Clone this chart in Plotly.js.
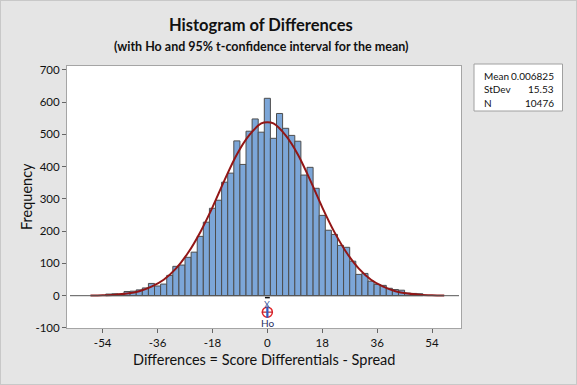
<!DOCTYPE html>
<html>
<head>
<meta charset="utf-8">
<script src="https://cdn.plot.ly/plotly-3.0.1.min.js"></script>
<style>
html, body { margin: 0; padding: 0; background: #e5e5e5; }
#chart { width: 577px; height: 385px; }
#frame { position: absolute; left: 0; top: 0; width: 575px; height: 383px; border: 1px solid #c8c8c8; pointer-events: none; }
</style>
</head>
<body>
<div id="chart"></div>
<div id="frame"></div>
<script>
// Histogram bins (centres, width 2) and counts
const binCenters = [-52,-50,-48,-46,-44,-42,-40,-38,-36,-34,-32,-30,-28,-26,-24,-22,-20,-18,-16,-14,-12,-10,-8,-6,-4,-2,
                    0,2,4,6,8,10,12,14,16,18,20,22,24,26,28,30,32,34,36,38,40,42,44,46,48,50];
const counts = [5,6,5,13,14,18,24,38,30,36,63,91,95,119,135,184,228,271,296,352,380,480,407,510,548,507,
                612,488,565,519,497,479,374,398,333,249,203,190,156,150,107,66,69,45,35,32,23,19,17,8,7,6];

// Fitted normal curve
const fitX = [-58,-54,-50,-46,-42,-38,-34,-30,-26,-22,-18,-14,-10,-6,-2,0,2,6,10,14,18,22,26,30,34,38,42,46,50,54,58];
const fitY = [0.5,1.3,3,6.7,14,28,49.5,84,133,197,274,359,438,497,534,538,534,497,438,359,274,197,133,84,49.5,28,14,6.7,3,1.3,0.5];

// Statistics box
const statLabels = ["Mean", "StDev", "N"];
const statValues = ["0.006825", "15.53", "10476"];

// Ticks
const xTicks = [-54, -36, -18, 0, 18, 36, 54];
const yTicks = [-100, 0, 100, 200, 300, 400, 500, 600, 700];

// Reference markers
const hoValue = 0;
const meanValue = 0.006825;

const plotL = 67, plotR = 461, plotT = 66, plotB = 328;
const pw = plotR - plotL, ph = plotB - plotT;
const px = v => (v - plotL) / pw;
const py = v => (plotB - v) / ph;

const FONT = 'Lato, "Open Sans", sans-serif';

const traces = [
  {
    type: 'bar', x: binCenters, y: counts, width: 2,
    marker: { color: '#7ca6d8', line: { color: '#4d4d4d', width: 1 } },
    hoverinfo: 'skip'
  },
  {
    type: 'scatter', mode: 'lines', x: fitX, y: fitY,
    line: { color: '#921616', width: 2, shape: 'spline' },
    hoverinfo: 'skip'
  },
  {
    type: 'scatter', mode: 'markers', x: [hoValue], y: [-51],
    marker: { symbol: 'circle-open', size: 10, color: '#e3262a', line: { width: 1.5, color: '#e3262a' } },
    hoverinfo: 'skip'
  },
  {
    type: 'scatter', mode: 'markers', x: [hoValue], y: [-51],
    marker: { symbol: 'line-ew-open', size: 8, color: '#c0202a', line: { width: 1.2, color: '#c0202a' } },
    hoverinfo: 'skip'
  },
  {
    type: 'scatter', mode: 'markers', x: [meanValue], y: [-51],
    marker: { symbol: 'line-ns-open', size: 8, color: '#2c5bc4', line: { width: 2.2, color: '#2c5bc4' } },
    hoverinfo: 'skip'
  }
];

const annotations = [
  { text: '<b>Histogram of Differences</b>', xref: 'paper', yref: 'paper', x: px(261), y: py(25),
    xanchor: 'center', yanchor: 'middle', showarrow: false, font: { family: FONT, size: 16.5, color: '#111' } },
  { text: '<b>(with Ho and 95% t-confidence interval for the mean)</b>', xref: 'paper', yref: 'paper', x: px(261), y: py(46),
    xanchor: 'center', yanchor: 'middle', showarrow: false, font: { family: FONT, size: 12.5, color: '#111' } },
  { text: 'Differences = Score Differentials - Spread', xref: 'paper', yref: 'paper', x: px(264), y: py(359),
    xanchor: 'center', yanchor: 'middle', showarrow: false, font: { family: FONT, size: 14.5, color: '#111' } },
  { text: 'Frequency', xref: 'paper', yref: 'paper', x: px(26), y: 0.5, textangle: -90,
    xanchor: 'center', yanchor: 'middle', showarrow: false, font: { family: FONT, size: 14.5, color: '#111' } },
  { text: 'X', xref: 'x', yref: 'y', x: meanValue, y: -26,
    xanchor: 'center', yanchor: 'middle', showarrow: false, font: { family: FONT, size: 9, color: '#3a5aa0' } },
  { text: 'Ho', xref: 'x', yref: 'y', x: hoValue, y: -84,
    xanchor: 'center', yanchor: 'middle', showarrow: false, font: { family: FONT, size: 10, color: '#1f2f5f' } }
];

const rowY = [76, 88.7, 102.7];
statLabels.forEach((lab, i) => {
  annotations.push({ text: lab, xref: 'paper', yref: 'paper', x: px(481.5), y: py(rowY[i]),
    xanchor: 'left', yanchor: 'middle', showarrow: false, font: { family: FONT, size: 10, color: '#111' } });
  annotations.push({ text: statValues[i], xref: 'paper', yref: 'paper', x: px(556), y: py(rowY[i]),
    xanchor: 'right', yanchor: 'middle', showarrow: false, font: { family: FONT, size: 10, color: '#111' } });
});

const shapes = [
  { type: 'line', xref: 'paper', yref: 'y', x0: px(70), x1: px(459), y0: 0, y1: 0,
    line: { color: '#555', width: 1 }, layer: 'above' },
  { type: 'line', xref: 'x', yref: 'y', x0: meanValue - 0.8, x1: meanValue + 0.8, y0: -6, y1: -6,
    line: { color: '#111', width: 1.5 } },
  { type: 'rect', xref: 'paper', yref: 'paper', x0: px(474), x1: px(562.5), y0: py(111), y1: py(64),
    fillcolor: '#ffffff', line: { color: '#a0a0a0', width: 1 } }
];

const layout = {
  width: 577, height: 385,
  margin: { l: plotL, r: 577 - plotR, t: plotT, b: 385 - plotB, pad: 0 },
  paper_bgcolor: '#e5e5e5', plot_bgcolor: '#ffffff',
  font: { family: FONT, size: 11, color: '#111' },
  showlegend: false, bargap: 0,
  xaxis: {
    range: [-65.7, 63.5], tickvals: xTicks, ticktext: xTicks.map(String),
    showgrid: false, zeroline: false, showline: true, mirror: true,
    linecolor: '#a5a5a5', linewidth: 1, ticks: 'outside', ticklen: 4, tickcolor: '#666',
    tickfont: { family: FONT, size: 11.5, color: '#111' }
  },
  yaxis: {
    range: [-100.2, 712.2], tickvals: yTicks, ticktext: yTicks.map(String),
    showgrid: false, zeroline: false, showline: true, mirror: true,
    linecolor: '#a5a5a5', linewidth: 1, ticks: 'outside', ticklen: 4, tickcolor: '#666',
    tickfont: { family: FONT, size: 11.5, color: '#111' }
  },
  annotations: annotations,
  shapes: shapes
};

Plotly.newPlot('chart', traces, layout, { staticPlot: true, displayModeBar: false });
</script>
</body>
</html>
